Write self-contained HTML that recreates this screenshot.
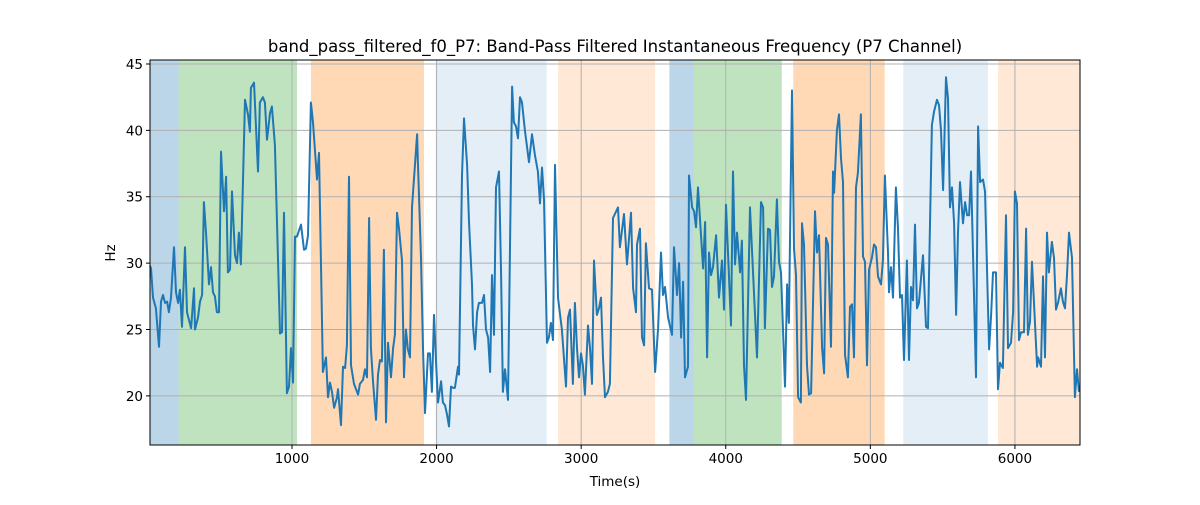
<!DOCTYPE html>
<html><head><meta charset="utf-8"><style>
html,body{margin:0;padding:0;background:#fff;}
svg text{font-family:"DejaVu Sans","Liberation Sans",sans-serif;fill:#000;}
</style></head><body>
<svg id="chart" width="1200" height="500" xmlns="http://www.w3.org/2000/svg">
<rect width="1200" height="500" fill="#fff"/>
<g id="spans"></g>
<g id="grid"></g>
<g id="series"></g>
<rect x="150" y="60" width="930" height="385" fill="none" stroke="#000" stroke-width="1"/>
<g id="ticks"></g>
<text x="615" y="52" text-anchor="middle" font-size="16.5">band_pass_filtered_f0_P7: Band-Pass Filtered Instantaneous Frequency (P7 Channel)</text>
<text x="615" y="486" text-anchor="middle" font-size="13.5">Time(s)</text>
<text x="0" y="0" transform="translate(115,253) rotate(-90)" text-anchor="middle" font-size="13.5">Hz</text>
</svg>
<script>
const xTicks=[1000,2000,3000,4000,5000,6000];
const yTicks=[20,25,30,35,40,45];
const spanStarts=[18,216,1131,1994,2840,3610,3778,4467,5228,5883];
const spanEnds=[216,1035,1913,2761,3511,3778,4387,5099,5813,6450];
const spanColors=["rgba(31,119,180,0.3)","rgba(44,160,44,0.3)","rgba(255,127,14,0.3)","rgba(31,119,180,0.12)","rgba(255,127,14,0.17)","rgba(31,119,180,0.3)","rgba(44,160,44,0.3)","rgba(255,127,14,0.3)","rgba(31,119,180,0.12)","rgba(255,127,14,0.17)"];
const times=[18,25,39,59,80,94,108,122,136,149,163,184,198,212,225,239,260,274,302,322,329,350,364,378,391,405,426,440,454,467,481,495,509,530,544,557,571,585,606,620,633,647,675,696,709,716,737,765,778,799,813,827,848,861,882,917,931,945,965,979,993,1007,1021,1035,1062,1083,1097,1111,
1131,1145,1173,1187,1214,1235,1249,1263,1277,1291,1311,1318,1339,1353,1367,1380,1394,1408,1429,1457,1470,1491,1505,1519,1533,1546,1560,1581,1595,1609,1622,1636,1650,1664,1685,1699,1712,1726,1740,1761,1775,1788,1802,1816,1830,1865,1871,1892,1906,1920,1941,1954,1968,1982,1996,2010,2031,2044,2058,2072,2086,2100,2114,2127,2148,2155,
2176,2190,2211,2224,2245,2252,2266,2280,2293,2314,2328,2342,2356,2370,2383,2397,2411,2432,2446,2459,2473,2494,2522,2535,2549,2563,2577,2591,2611,2639,2660,2681,2701,2715,2729,2743,2764,2777,2791,2805,2819,2840,2867,2895,2909,2923,2943,2957,2971,2985,2999,3012,3026,3047,3061,3075,3089,3109,3123,3137,3151,3165,3185,3199,
3220,3255,3268,3296,3317,3345,3359,3379,3386,3407,3421,3435,3448,3469,3490,3511,3532,3552,3566,3580,3601,3628,3642,3663,3677,3691,3705,3718,3739,3746,3767,3781,3794,3808,3843,3857,3871,3884,3898,3912,3933,3953,3974,3988,4002,4036,4050,4064,4078,4099,4112,4126,4140,4168,4216,4244,4258,4271,
4292,4306,4320,4334,4354,4368,4382,4410,4424,4437,4458,4472,4486,4500,4520,4527,4541,4562,4576,4590,4617,4631,4645,4666,4680,4693,4707,4728,4742,4749,4769,4783,4797,4811,4825,4845,4859,4873,4887,4901,4914,4935,4949,4963,4977,4991,5011,5025,5039,5053,5074,5087,5101,5122,5129,5143,5157,5177,5191,5205,5219,5233,5253,5267,5281,5295,5309,5323,5336,
5364,5385,5399,5426,5440,5461,5475,5489,5503,5523,5537,5551,5565,5579,5593,5606,5620,5641,5655,5669,5683,5696,5731,5745,5759,5779,5793,5821,5835,5848,5869,5883,5897,5917,5938,5952,5973,5987,6000,6014,6028,6042,6063,6077,6090,6104,6118,6153,6160,6180,6194,6208,6222,6235,6256,6270,6284,6298,6318,6332,6346,6360,6374,6395,6415,6429,6443];
const values=[29.8,29.6,27.4,26.6,23.7,27.1,27.6,27.0,27.1,26.3,27.4,31.2,27.8,27.0,28.0,25.2,31.2,26.3,25.1,28.1,25.0,25.9,27.1,27.6,34.6,32.3,28.4,29.7,27.8,27.5,26.3,26.3,38.4,33.9,36.5,29.3,29.5,35.4,30.6,30.0,32.3,29.9,42.3,41.2,39.9,43.2,43.6,36.9,42.1,42.5,42.1,39.3,41.3,41.8,38.9,24.7,24.8,33.8,20.2,20.7,23.6,21.0,32.0,32.0,32.9,31.0,31.1,32.1,
42.1,40.6,36.3,38.3,21.8,22.9,19.9,21.0,20.3,19.1,19.9,20.5,17.8,22.2,22.1,23.8,36.5,22.3,20.9,20.1,20.9,21.2,22.0,21.4,33.4,23.6,21.1,18.2,21.6,22.7,22.6,31.0,18.0,24.0,21.4,23.6,24.6,33.8,32.6,30.2,21.4,25.0,23.5,22.9,34.2,39.7,37.6,30.4,23.6,18.7,23.2,23.2,20.3,26.1,22.6,19.5,21.1,19.5,19.3,18.6,17.7,20.7,20.6,20.6,22.2,21.6,
36.6,40.9,37.4,33.1,28.4,25.3,23.5,26.3,27.0,27.0,27.6,25.0,24.4,21.8,29.1,24.6,35.7,36.9,29.1,20.3,22.0,19.7,43.3,40.6,40.3,39.4,42.5,42.1,40.0,37.6,39.7,38.1,36.9,34.5,37.2,34.8,24.0,24.4,25.5,24.2,37.4,27.4,25.0,20.7,25.9,26.5,20.9,27.0,23.6,21.4,23.2,22.3,20.1,25.3,23.6,20.9,30.2,26.1,26.6,27.4,22.9,19.9,20.3,20.9,
33.4,34.2,31.2,33.7,29.9,33.8,28.1,26.3,31.4,32.6,24.4,23.8,31.5,28.1,28.0,21.8,25.1,30.8,27.6,28.2,25.9,24.6,31.2,27.6,30.0,24.4,28.6,21.4,22.2,36.6,34.2,33.9,32.7,35.7,29.6,33.1,22.9,30.8,29.1,29.7,32.1,27.4,30.2,26.5,34.4,25.3,36.9,29.9,32.3,29.3,31.7,22.3,19.7,34.2,22.9,34.6,34.2,25.1,
32.6,32.5,28.2,29.0,34.8,30.1,29.3,20.7,28.4,25.5,43.0,31.1,29.1,19.9,19.5,33.0,31.4,22.3,20.1,20.2,33.9,30.8,32.1,23.6,21.7,31.9,31.4,23.7,36.9,35.3,40.0,41.2,37.9,36.1,23.1,21.4,26.7,26.9,22.9,35.7,36.8,41.2,30.5,30.1,22.3,29.5,30.4,31.4,31.2,29.0,28.4,30.2,36.6,30.8,27.8,29.7,27.4,35.7,32.6,27.4,27.6,22.7,30.2,22.7,28.2,27.2,32.9,26.6,27.0,
30.6,25.2,25.1,40.4,41.4,42.3,41.9,40.0,35.5,44.0,42.4,34.2,35.7,33.0,26.1,32.3,36.1,33.0,34.6,33.6,33.6,36.9,21.4,40.3,36.1,36.3,35.4,23.5,26.1,29.3,29.3,20.5,22.5,22.1,33.6,23.6,24.0,26.3,35.4,34.5,24.2,24.8,24.8,32.6,24.6,25.6,30.1,22.2,22.9,22.2,29.0,22.9,32.3,29.3,31.6,30.4,26.5,27.0,28.1,27.1,26.6,29.1,32.3,30.4,19.9,22.0,20.3];

const L=150,R=1080,T=60,B=445,XMIN=18,XMAX=6450,YMIN=16.3,YMAX=45.3;
function xs(t){return L+(t-XMIN)/(XMAX-XMIN)*(R-L);}
function ys(v){return B-(v-YMIN)/(YMAX-YMIN)*(B-T);}
const NS="http://www.w3.org/2000/svg";
function mk(tag,attrs,parent){const e=document.createElementNS(NS,tag);for(const k in attrs)e.setAttribute(k,attrs[k]);parent.appendChild(e);return e;}
const gs=document.getElementById('spans'),gg=document.getElementById('grid'),gser=document.getElementById('series'),gt=document.getElementById('ticks');
for(let i=0;i<spanStarts.length;i++){
  const r=mk('rect',{x:xs(spanStarts[i]),y:T,width:xs(spanEnds[i])-xs(spanStarts[i]),height:B-T,fill:spanColors[i]},gs);
  
  
}
xTicks.forEach(t=>{
  const x=xs(t);
  const g=mk('line',{x1:x,x2:x,y1:T,y2:B,stroke:'#b0b0b0','stroke-width':1},gg);
  
  
  const tk=mk('line',{x1:x,x2:x,y1:B,y2:B+4,stroke:'#000','stroke-width':1},gt);
  
  
  const lb=mk('text',{x:x,y:B+18,'text-anchor':'middle','font-size':'13.5'},gt);
  lb.textContent=t;
  
  
});
yTicks.forEach(v=>{
  const y=ys(v);
  const g=mk('line',{x1:L,x2:R,y1:y,y2:y,stroke:'#b0b0b0','stroke-width':1},gg);
  
  
  const tk=mk('line',{x1:L-4,x2:L,y1:y,y2:y,stroke:'#000','stroke-width':1},gt);
  
  
  const lb=mk('text',{x:L-7,y:y+5,'text-anchor':'end','font-size':'13.5'},gt);
  lb.textContent=v;
  
  
});
let d='';
for(let i=0;i<times.length;i++){d+=(i?'L':'M')+xs(times[i]).toFixed(1)+','+ys(values[i]).toFixed(1);}
const p=mk('path',{d:d,fill:'none',stroke:'#1f77b4','stroke-width':2,'stroke-linejoin':'round'},gser);


</script>
</body></html>
